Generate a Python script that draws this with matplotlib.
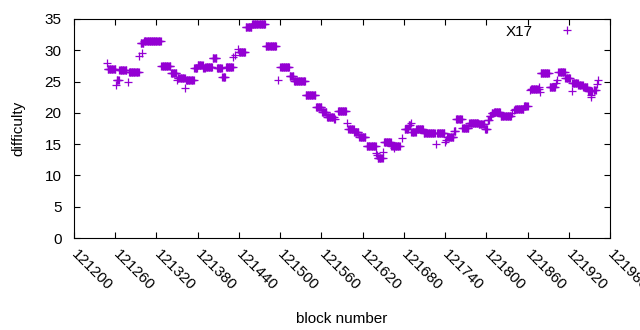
import numpy as np
import matplotlib
matplotlib.use("Agg")
import matplotlib.pyplot as plt

# Difficulty per block, stored as runs: first block, number of blocks, value
run_start = [121248, 121249, 121261, 121262, 121266, 121278, 121280, 121295, 121297, 121299,
             121302, 121327, 121341, 121350, 121351, 121362, 121363, 121375, 121380, 121388,
             121391, 121402, 121408, 121416, 121421, 121432, 121435, 121438, 121440, 121450,
             121459, 121479, 121497, 121500, 121514, 121520, 121537, 121552, 121561, 121568,
             121579, 121584, 121597, 121599, 121608, 121615, 121626, 121640, 121641, 121642,
             121650, 121651, 121662, 121665, 121677, 121681, 121687, 121690, 121691, 121698,
             121709, 121727, 121728, 121740, 121741, 121743, 121753, 121756, 121765, 121775,
             121789, 121798, 121802, 121805, 121808, 121811, 121821, 121838, 121840, 121842,
             121855, 121863, 121865, 121877, 121878, 121879, 121892, 121901, 121903, 121905,
             121915, 121924, 121925, 121934, 121941, 121948, 121952, 121953, 121956, 121961,
             121963]
run_len = [1, 12, 1, 4, 11, 1, 15, 1, 5, 1,
           25, 14, 9, 1, 11, 1, 12, 5, 8, 3,
           11, 6, 8, 5, 11, 1, 1, 1, 10, 9,
           20, 16, 1, 14, 6, 17, 15, 9, 7, 11,
           2, 13, 1, 9, 7, 10, 14, 1, 1, 8,
           1, 11, 13, 1, 1, 6, 3, 1, 7, 11,
           17, 1, 12, 1, 1, 10, 3, 9, 10, 14,
           9, 4, 3, 3, 3, 10, 16, 1, 1, 13,
           6, 1, 12, 1, 1, 13, 9, 1, 1, 10,
           8, 1, 9, 7, 7, 7, 1, 1, 4, 1,
           1]
run_difficulty = [27.9, 27.0, 24.4, 25.3, 26.8, 24.9, 26.6, 29.1, 31.1, 29.6,
                  31.45, 27.5, 26.3, 25.2, 25.5, 23.9, 25.3, 27.1, 27.6, 27.2,
                  27.3, 28.8, 27.2, 25.7, 27.4, 28.9, 29.2, 30.2, 29.7, 33.8,
                  34.15, 30.75, 25.2, 27.4, 25.85, 25.05, 22.85, 21.0, 20.1, 19.4,
                  19.05, 20.3, 18.4, 17.45, 17.0, 16.2, 14.65, 13.6, 13.3, 12.75,
                  13.7, 15.3, 14.75, 14.4, 15.95, 17.5, 18.0, 18.3, 17.0, 17.4,
                  16.8, 15.0, 16.85, 15.4, 15.6, 16.2, 17.05, 19.0, 17.65, 18.45,
                  18.15, 17.4, 18.9, 19.5, 20.0, 20.2, 19.5, 20.0, 20.4, 20.6,
                  21.1, 23.6, 23.8, 24.2, 23.4, 26.3, 24.2, 24.8, 25.2, 26.55,
                  25.5, 23.5, 24.7, 24.5, 24.1, 23.5, 22.8, 22.5, 23.7, 24.6,
                  25.3]

x_ticks = list(range(121200, 121981, 60))
y_ticks = [0, 5, 10, 15, 20, 25, 30, 35]

# expand runs into one point per block
blocks = np.concatenate([np.arange(s, s + n) for s, n in zip(run_start, run_len)])
difficulty = np.concatenate([np.full(n, d) for n, d in zip(run_len, run_difficulty)])

plt.rcParams['font.family'] = ['Liberation Sans', 'DejaVu Sans']
plt.rcParams['font.size'] = 11

fig = plt.figure(figsize=(6.4, 3.3), dpi=100)
ax = fig.add_axes([74 / 640, 1 - 238 / 330, 536 / 640, 219 / 330])

ax.plot(blocks, difficulty, linestyle='none', marker='+', color='#9400d3',
        markersize=5.6, markeredgewidth=0.9, label='X17')

ax.set_xlim(121200, 121980)
ax.set_ylim(0, 35)
ax.set_xticks(x_ticks)
ax.set_yticks(y_ticks)
ax.tick_params(direction='in', length=4, width=0.8, top=True, right=True)
ax.tick_params(axis='y', pad=9)
ax.tick_params(axis='x', pad=10)
for lbl in ax.get_xticklabels():
    lbl.set_rotation(-45)
    lbl.set_rotation_mode('anchor')
    lbl.set_ha('left')
    lbl.set_va('center')

ax.set_xlabel('block number', labelpad=14)
ax.set_ylabel('difficulty', labelpad=14)

ax.legend(loc='center right', bbox_to_anchor=(0.949, 0.942), frameon=False,
          markerfirst=False, handlelength=2.0, handletextpad=1.3,
          borderpad=0, borderaxespad=0, fontsize=11)

fig.savefig('out.png', dpi=100)
